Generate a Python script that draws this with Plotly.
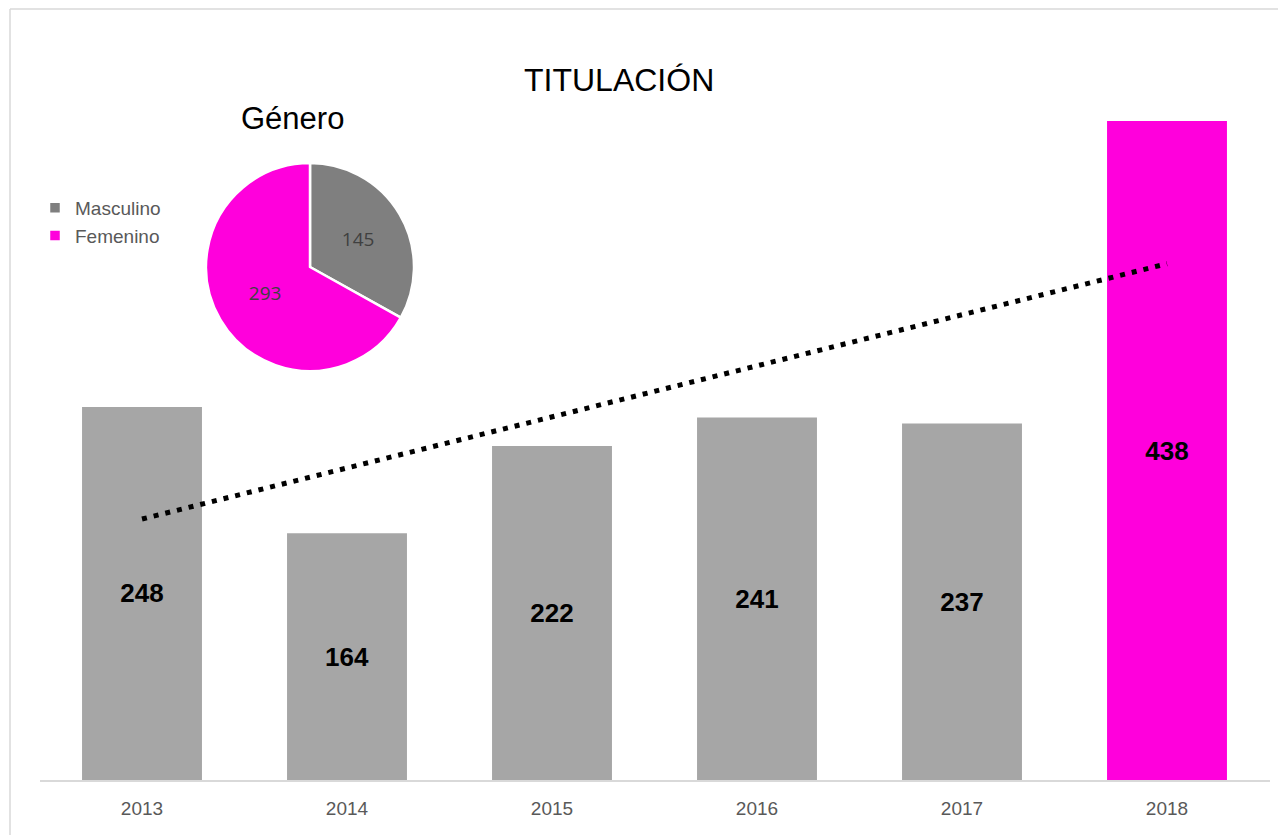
import numpy as np
import plotly.graph_objects as go

# bar data
years = ["2013", "2014", "2015", "2016", "2017", "2018"]
titulados = [248, 164, 222, 241, 237, 438]
bar_colors = ["#a6a6a6"] * 5 + ["#ff00dc"]

# pie data
genero = ["Masculino", "Femenino"]
genero_vals = [145, 293]
genero_colors = ["#7f7f7f", "#ff00dc"]

FONT = "Liberation Sans, Arial, sans-serif"
W, H = 1286, 835
OFF = 8  # page body margin


def px(x):
    return (x - OFF) / W


def py(y):
    return 1 - (y - OFF) / H


# linear trend line over the bars
xi = np.arange(1, len(titulados) + 1)
slope, icpt = np.polyfit(xi, titulados, 1)
trend = slope * xi + icpt

fig = go.Figure()

fig.add_trace(go.Bar(
    x=years, y=titulados,
    marker=dict(color=bar_colors, line=dict(width=0)),
    text=[str(v) for v in titulados],
    textposition="inside", insidetextanchor="middle",
    textfont=dict(family=FONT, size=26, color="#000000", weight="bold"),
    textangle=0,
    showlegend=False, hoverinfo="x+y",
))

fig.add_trace(go.Scatter(
    x=years, y=trend, mode="lines",
    line=dict(color="#000000", width=5, dash="5px,7px"),
    showlegend=False, hoverinfo="skip",
))

fig.add_trace(go.Pie(
    labels=genero, values=genero_vals,
    marker=dict(colors=genero_colors, line=dict(color="#ffffff", width=2.5)),
    sort=False, direction="clockwise", rotation=0,
    textinfo="value", textposition="inside",
    insidetextfont=dict(family="Open Sans, sans-serif", size=19, color="#404040"),
    domain=dict(x=[px(206), px(414)], y=[py(372), py(162)]),
    showlegend=True,
))

fig.update_layout(
    width=W, height=H,
    margin=dict(l=0, r=0, t=0, b=0),
    paper_bgcolor="#ffffff", plot_bgcolor="#ffffff",
    bargap=0.415,
    xaxis=dict(
        domain=[px(39.5), px(1269.5)],
        showgrid=False, zeroline=False,
        showline=True, linecolor="#d9d9d9", linewidth=2,
        ticks="", ticklabelstandoff=10,
        tickfont=dict(family=FONT, size=19, color="#595959"),
    ),
    yaxis=dict(
        domain=[py(780), py(100)], range=[0, 452],
        visible=False, showgrid=False, zeroline=False,
    ),
    legend=dict(
        x=px(35), y=py(189), xanchor="left", yanchor="top",
        font=dict(family=FONT, size=19, color="#595959"),
        bgcolor="rgba(0,0,0,0)", itemwidth=30, tracegroupgap=0,
    ),
    annotations=[
        dict(text="TITULACIÓN", x=px(619), y=py(80), xref="paper", yref="paper",
             xanchor="center", yanchor="middle", showarrow=False,
             font=dict(family=FONT, size=32, color="#000000")),
        dict(text="Género", x=px(292), y=py(119), xref="paper", yref="paper",
             xanchor="center", yanchor="middle", showarrow=False,
             font=dict(family=FONT, size=31, color="#000000")),
    ],
    shapes=[
        dict(type="line", xref="paper", yref="paper", x0=px(10), x1=1.0,
             y0=py(9), y1=py(9), line=dict(color="#d9d9d9", width=1.5)),
        dict(type="line", xref="paper", yref="paper", x0=px(10), x1=px(10),
             y0=0, y1=py(9), line=dict(color="#d9d9d9", width=1.5)),
    ],
)

fig.write_html("out.html")
